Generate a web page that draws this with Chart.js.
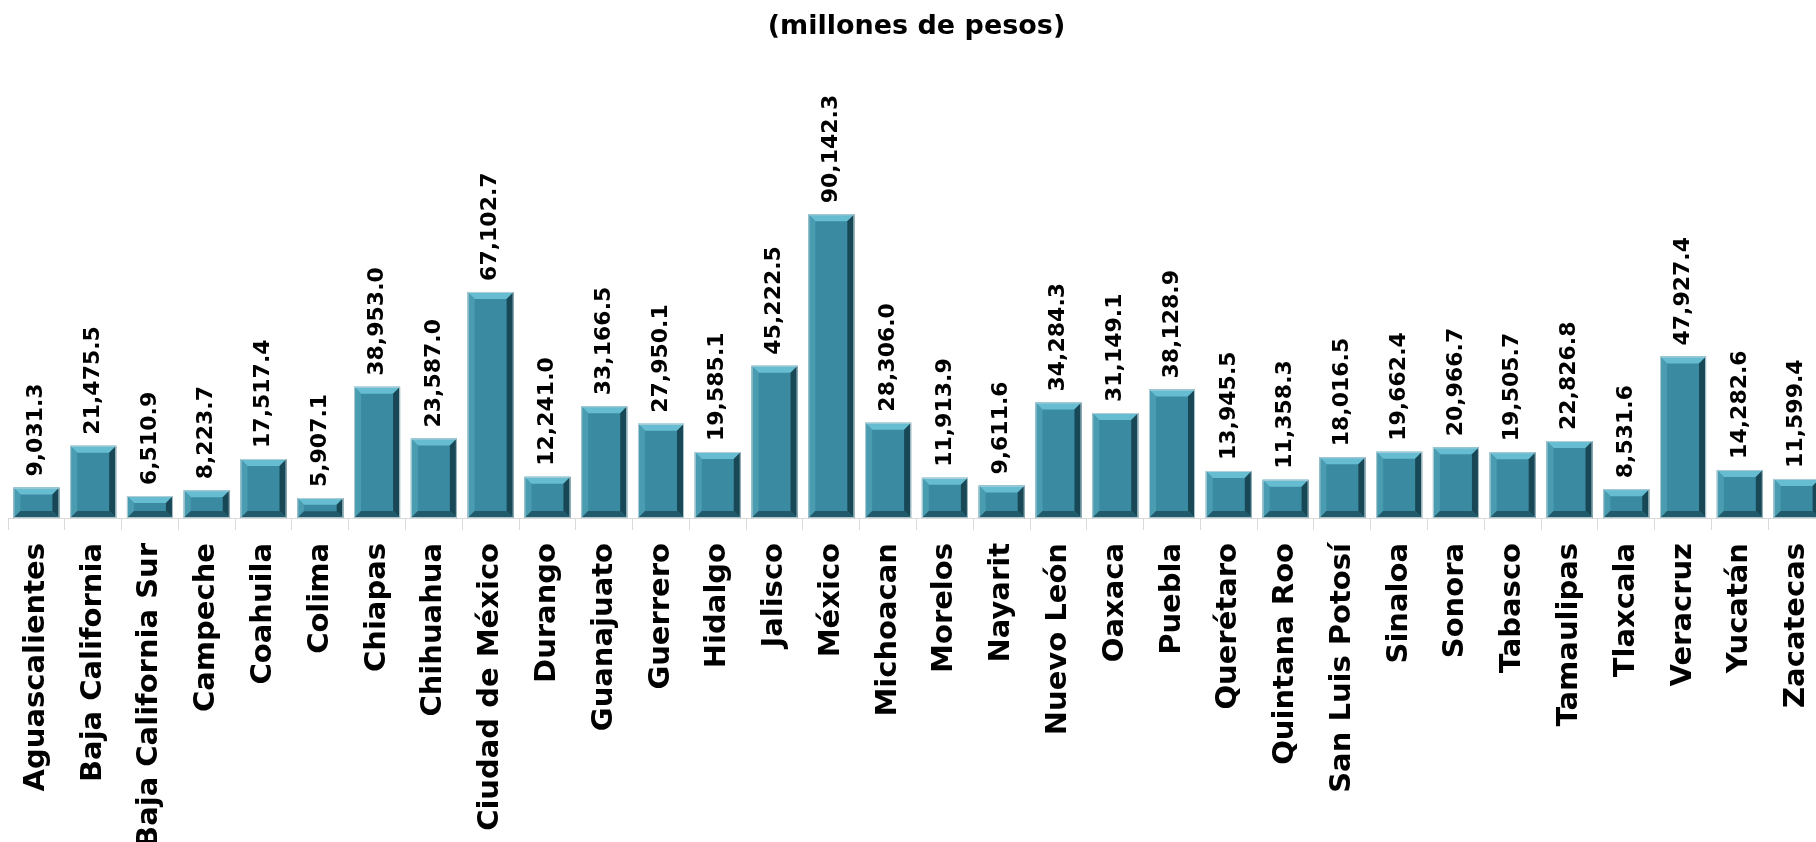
<!DOCTYPE html>
<html>
<head>
<meta charset="utf-8">
<script src="https://cdn.jsdelivr.net/npm/chart.js@4.4.0/dist/chart.umd.min.js"></script>
<style>
    html, body { margin: 0; padding: 0; background: #ffffff; overflow: hidden; }
    #chart-wrap { width: 1834px; height: 842px; position: relative; }
    #estadosChart { display: block; }
</style>
</head>
<body>
<div id="chart-wrap"><canvas id="estadosChart" width="1834" height="842"></canvas></div>
<script>
// state names and amounts (millones de pesos)
const estados = [
    'Aguascalientes', 'Baja California', 'Baja California Sur', 'Campeche', 'Coahuila',
    'Colima', 'Chiapas', 'Chihuahua', 'Ciudad de México', 'Durango', 'Guanajuato',
    'Guerrero', 'Hidalgo', 'Jalisco', 'México', 'Michoacan', 'Morelos', 'Nayarit',
    'Nuevo León', 'Oaxaca', 'Puebla', 'Querétaro', 'Quintana Roo', 'San Luis Potosí',
    'Sinaloa', 'Sonora', 'Tabasco', 'Tamaulipas', 'Tlaxcala', 'Veracruz', 'Yucatán',
    'Zacatecas'
];
const montos = [
    9031.3, 21475.5, 6510.9, 8223.7, 17517.4,
    5907.1, 38953.0, 23587.0, 67102.7, 12241.0, 33166.5,
    27950.1, 19585.1, 45222.5, 90142.3, 28306.0, 11913.9, 9611.6,
    34284.3, 31149.1, 38128.9, 13945.5, 11358.3, 18016.5,
    19662.4, 20966.7, 19505.7, 22826.8, 8531.6, 47927.4, 14282.6,
    11599.4
];
const titulo = '(millones de pesos)';
const yMax = 129000;

const labelFont = 'bold 22px "DejaVu Sans"';

function formatMonto(v) {
    return v.toLocaleString('en-US', { minimumFractionDigits: 1, maximumFractionDigits: 1 });
}

// draws the bevel edges on top of each bar
const bevelPlugin = {
    id: 'bevel',
    afterDatasetsDraw(chart) {
        const ctx = chart.ctx;
        const meta = chart.getDatasetMeta(0);
        meta.data.forEach(function (bar) {
            const p = bar.getProps(['x', 'y', 'base', 'width'], true);
            const l = p.x - p.width / 2, r = p.x + p.width / 2;
            const t = p.y, b = p.base;
            const s = Math.min(7, (b - t) / 3);
            ctx.save();
            // top
            ctx.fillStyle = '#66bcd0';
            ctx.beginPath();
            ctx.moveTo(l, t); ctx.lineTo(r, t); ctx.lineTo(r - s, t + s); ctx.lineTo(l + s, t + s);
            ctx.closePath(); ctx.fill();
            // left
            ctx.fillStyle = '#4a9cb1';
            ctx.beginPath();
            ctx.moveTo(l, t); ctx.lineTo(l + s, t + s); ctx.lineTo(l + s, b - s); ctx.lineTo(l, b);
            ctx.closePath(); ctx.fill();
            // right
            ctx.fillStyle = '#184856';
            ctx.beginPath();
            ctx.moveTo(r, t); ctx.lineTo(r - s, t + s); ctx.lineTo(r - s, b - s); ctx.lineTo(r, b);
            ctx.closePath(); ctx.fill();
            // bottom
            ctx.fillStyle = '#215a6a';
            ctx.beginPath();
            ctx.moveTo(l, b); ctx.lineTo(l + s, b - s); ctx.lineTo(r - s, b - s); ctx.lineTo(r, b);
            ctx.closePath(); ctx.fill();
            // thin light outline
            ctx.strokeStyle = 'rgba(190,210,216,0.9)';
            ctx.lineWidth = 1;
            ctx.strokeRect(l + 0.5, t + 0.5, p.width - 1, b - t - 1);
            ctx.restore();
        });
    }
};

// vertical value labels above each bar
const valueLabelPlugin = {
    id: 'valueLabels',
    afterDraw(chart) {
        const ctx = chart.ctx;
        const meta = chart.getDatasetMeta(0);
        ctx.save();
        ctx.font = labelFont;
        ctx.fillStyle = '#000000';
        ctx.textAlign = 'left';
        ctx.textBaseline = 'middle';
        meta.data.forEach(function (bar, i) {
            ctx.save();
            ctx.translate(bar.x, bar.y - 11);
            ctx.rotate(-Math.PI / 2);
            ctx.fillText(formatMonto(montos[i]), 0, 0);
            ctx.restore();
        });
        ctx.restore();
    }
};

function createChart() {
    const ctx = document.getElementById('estadosChart');
    new Chart(ctx, {
        type: 'bar',
        data: {
            labels: estados,
            datasets: [{
                data: montos,
                backgroundColor: '#3a8ba2',
                borderWidth: 0,
                barPercentage: 0.81,
                categoryPercentage: 1
            }]
        },
        options: {
            responsive: false,
            maintainAspectRatio: false,
            devicePixelRatio: 1,
            animation: false,
            layout: { padding: { left: 8, right: 9, top: 0, bottom: 0 } },
            plugins: {
                legend: { display: false },
                tooltip: { enabled: false },
                title: {
                    display: true,
                    text: titulo,
                    color: '#000000',
                    font: { family: 'DejaVu Sans', size: 27, weight: 'bold', lineHeight: 1.2 },
                    padding: { top: 11, bottom: 40 }
                }
            },
            scales: {
                x: {
                    offset: true,
                    grid: {
                        offset: true,
                        drawOnChartArea: false,
                        drawTicks: true,
                        tickLength: 12,
                        color: '#d9d9d9'
                    },
                    border: { display: true, color: '#d9d9d9', width: 1 },
                    ticks: {
                        autoSkip: false,
                        minRotation: 90,
                        maxRotation: 90,
                        padding: 13,
                        color: '#000000',
                        font: { family: 'DejaVu Sans', size: 29, weight: 'bold' }
                    },
                    afterFit(scale) {
                        scale.height = 324;
                        scale.paddingLeft = 0;
                        scale.paddingRight = 0;
                    }
                },
                y: {
                    display: false,
                    min: 0,
                    max: yMax
                }
            }
        },
        plugins: [bevelPlugin, valueLabelPlugin]
    });
}

createChart();
</script>
</body>
</html>
